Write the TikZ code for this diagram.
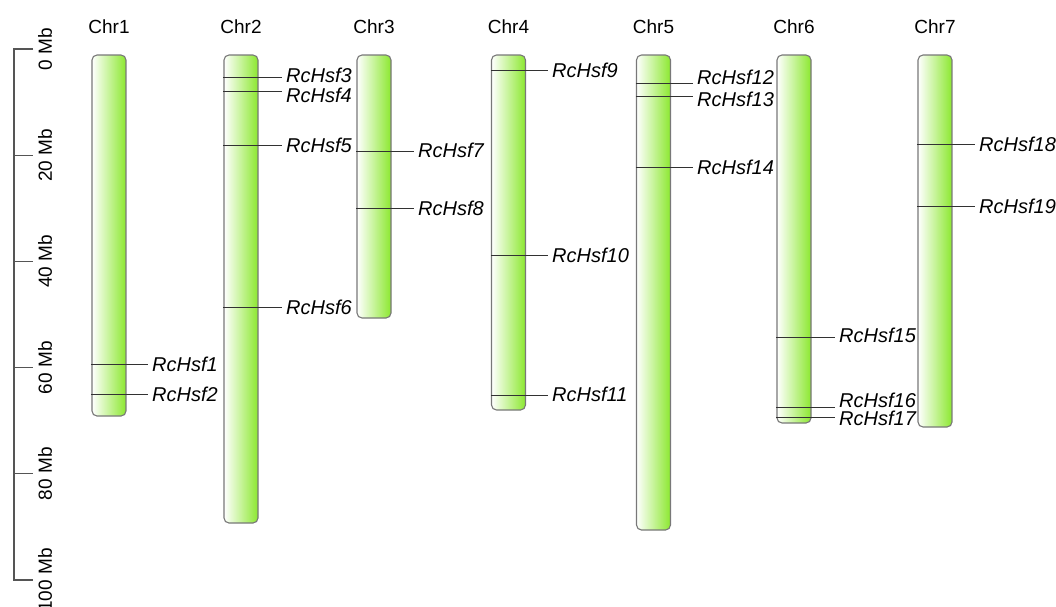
\documentclass[tikz,border=0pt]{standalone}
\usepackage{fontspec}
\setmainfont{Liberation Sans}
\definecolor{chrgreen}{RGB}{140,232,48}
\definecolor{chredge}{RGB}{120,120,120}
\definecolor{barcol}{RGB}{85,85,85}
\definecolor{genecol}{RGB}{50,50,50}
\begin{document}
\begin{tikzpicture}[x=1pt,y=-1pt,
  chrom/.style={draw=chredge, line width=1.1pt, rounded corners=5pt,
    left color=white, right color=chrgreen, minimum width=34pt, inner sep=0pt},
  chrlab/.style={font=\fontsize{19}{22}\selectfont, inner sep=0pt},
  scalelab/.style={font=\fontsize{19}{22}\selectfont, rotate=90, inner sep=0pt},
  genelab/.style={font=\fontsize{20}{24}\selectfont\itshape, anchor=west,
    inner xsep=4pt, inner ysep=0pt},
  geneline/.style={draw=genecol, line width=0.8pt},
  scalebar/.style={draw=barcol, line width=1.2pt}]
\useasboundingbox (0,0) rectangle (1056,606);

% scale bar, 0-100 Mb
\draw[scalebar] (33,49) -- (14,49) -- (14,580) -- (33,580);
\foreach \k in {1,...,4} \draw[scalebar] (14,49+106.2*\k) -- (33,49+106.2*\k);
\foreach \k/\t in {0/0 Mb,1/20 Mb,2/40 Mb,3/60 Mb,4/80 Mb,5/100 Mb}
  \node[scalelab] (mb\k) at (45,49+106.2*\k) {\t};

% chromosomes: name / centre x / bottom y
\foreach \n/\cx/\b in {1/109/416, 2/241/523, 3/374/318, 4/508.5/410,
                       5/653.5/530, 6/794/423, 7/935/427} {
  \node[chrom, minimum height=\b-55] (chr\n) at (\cx,{(55+\b)/2}) {};
  \node[chrlab] (chrlab\n) at (\cx,27) {Chr\n};
}

% genes: chromosome / gene / line y / line end x / label y
\foreach \c/\g/\y/\e/\ly in {
   1/1/364/148/364, 1/2/394/148/394,
   2/3/77/282/75, 2/4/91/282/95, 2/5/145/282/145, 2/6/307/282/307,
   3/7/151/414/150, 3/8/208/414/208,
   4/9/70/548/70, 4/10/255/548/255, 4/11/395/548/394,
   5/12/83/693/77, 5/13/96/693/99, 5/14/167/693/167,
   6/15/337/835/335, 6/16/407/835/400, 6/17/417/835/418,
   7/18/144/975/144, 7/19/206/975/206} {
  \coordinate (g\g) at (chr\c.west |- 0,\y);
  \node[genelab] (lab\g) at (\e,\ly) {RcHsf\g};
  \draw[geneline] (g\g) -- (g\g -| lab\g.west);
}
\end{tikzpicture}
\end{document}
